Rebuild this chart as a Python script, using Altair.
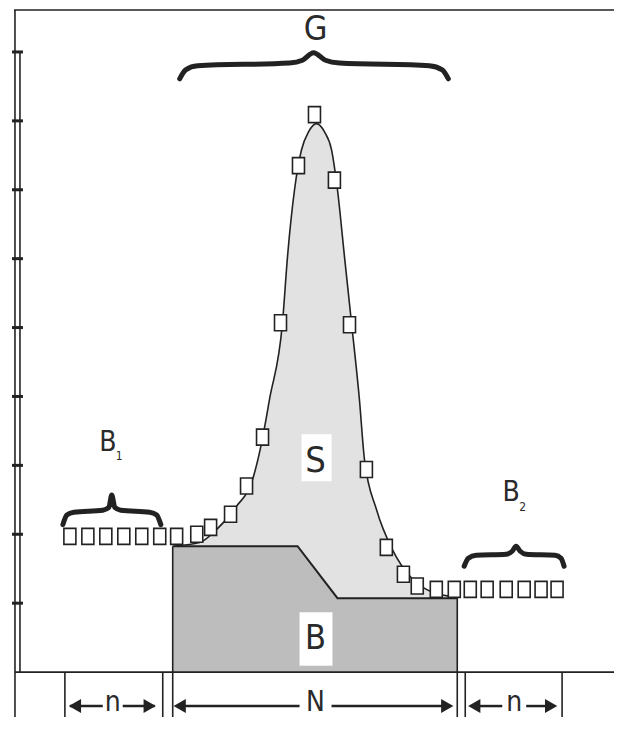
import altair as alt
import pandas as pd

# ---- coordinate frame: x = channel number, y = counts (one axis tick = 1) ----
X_DOMAIN = [-0.444, 33.278]
Y_DOMAIN = [-0.652, 9.638]

# ---- measured channel contents (open squares) ----
b1_x = [3.0, 4.0, 5.0, 6.0, 7.0, 8.0]
b1_y = [1.97, 1.97, 1.97, 1.97, 1.97, 1.97]
peak_x = [8.94, 10.06, 10.83, 11.94, 12.83, 13.72, 14.72, 15.72, 16.61, 17.72,
          18.56, 19.50, 20.61, 21.56, 22.33, 23.39, 24.39]
peak_y = [1.97, 2.00, 2.10, 2.29, 2.70, 3.41, 5.07, 7.35, 8.09, 7.14,
          5.04, 2.94, 1.81, 1.42, 1.25, 1.20, 1.20]
b2_x = [25.28, 26.22, 27.28, 28.28, 29.22, 30.11]
b2_y = [1.20, 1.20, 1.20, 1.20, 1.20, 1.20]

# ---- fitted peak curve (gross area G = S + B) ----
curve_x = [8.83, 10.22, 11.17, 12.28, 13.11, 13.67, 14.11, 14.83, 15.11, 15.50,
           15.89, 16.28, 16.72, 17.17, 17.56, 17.89, 18.28, 18.67, 19.11, 19.39,
           20.06, 20.94, 22.06, 23.17, 24.50]
curve_y = [1.83, 1.88, 2.07, 2.41, 2.75, 3.33, 3.96, 5.07, 6.03, 7.00,
           7.58, 7.84, 7.96, 7.84, 7.58, 7.00, 6.03, 5.07, 3.96, 3.09,
           2.36, 1.78, 1.35, 1.16, 1.09]

# ---- background (step) under the peak ----
bkg_x = [8.72, 15.67, 17.89, 24.56]
bkg_y = [1.826, 1.826, 1.072, 1.072]

# ---- braces ----
brace_g_x = [9.11, 9.44, 10.11, 15.22, 15.94, 16.56, 17.22, 18.00, 23.00, 23.72, 24.06]
brace_g_y = [8.61, 8.74, 8.80, 8.84, 8.88, 8.99, 8.88, 8.84, 8.80, 8.74, 8.61]
brace_b1_x = [2.61, 2.83, 3.22, 4.83, 5.17, 5.33, 5.50, 5.83, 7.44, 7.83, 8.06]
brace_b1_y = [2.14, 2.28, 2.32, 2.35, 2.39, 2.57, 2.39, 2.35, 2.32, 2.28, 2.14]
brace_b2_x = [24.94, 25.17, 25.61, 27.28, 27.61, 27.83, 28.06, 28.39, 30.00, 30.33, 30.50]
brace_b2_y = [1.536, 1.652, 1.696, 1.710, 1.754, 1.826, 1.754, 1.710, 1.696, 1.652, 1.536]

# ---- axis ticks ----
tick_values = [1, 2, 3, 4, 5, 6, 7, 8, 9]

# ---- frame / strip line segments (x, x2, y, y2) ----
seg_x = [-0.111, -0.056, 0.222, -0.056, 2.722, 8.167, 8.722, 24.556, 25.000, 30.389, 8.722]
seg_x2 = [33.278, -0.056, 0.222, 33.278, 2.722, 8.167, 8.722, 24.556, 25.000, 30.389, 8.722]
seg_y = [9.609, 9.609, 9.000, 0.000, 0.000, 0.000, 1.826, 1.072, 0.000, 0.000, 0.000]
seg_y2 = [9.609, -0.652, 0.000, 0.000, -0.652, -0.652, -0.652, -0.652, -0.652, -0.652, 0.000]

# ---- dimension arrows (shafts and heads) ----
arrow_y = -0.493
shaft_x = [3.00, 5.94, 9.11, 17.56, 25.50, 28.39]
shaft_x2 = [4.83, 7.72, 15.78, 24.11, 27.06, 29.83]
head_left_x = [3.28, 9.11, 25.50]
head_right_x = [7.44, 24.00, 29.78]

# ---- labels ----
label_text = ["G", "B", "1", "S", "B", "B", "2", "n", "N", "n"]
label_x = [16.67, 5.11, 5.74, 16.67, 16.67, 27.56, 28.19, 5.39, 16.67, 27.72]
label_y = [9.32, 3.32, 3.13, 3.07, 0.48, 2.60, 2.40, -0.45, -0.45, -0.45]
label_size = [34, 28, 12, 36, 34, 28, 12, 28, 28, 28]

# white boxes behind S and B labels
box_x = [15.89, 15.78]
box_x2 = [17.56, 17.61]
box_y = [3.45, 0.87]
box_y2 = [2.77, 0.09]

FONT = "Liberation Sans Narrow, DejaVu Sans Condensed, Liberation Sans, Arial, sans-serif"
INK = "#222222"

xs = alt.Scale(domain=X_DOMAIN, nice=False, zero=False)
ys = alt.Scale(domain=Y_DOMAIN, nice=False, zero=False)
X = lambda f: alt.X(f, type="quantitative", scale=xs, axis=None)
Y = lambda f: alt.Y(f, type="quantitative", scale=ys, axis=None)

pts = pd.DataFrame({"x": b1_x + peak_x + b2_x, "y": b1_y + peak_y + b2_y})
curve = pd.DataFrame({"x": curve_x, "y": curve_y, "base": [0.0] * len(curve_x)})
bkg = pd.DataFrame({"x": bkg_x, "y": bkg_y, "base": [0.0] * len(bkg_x)})
braces = pd.DataFrame({
    "x": brace_g_x + brace_b1_x + brace_b2_x,
    "y": brace_g_y + brace_b1_y + brace_b2_y,
    "brace": ["G"] * len(brace_g_x) + ["B1"] * len(brace_b1_x) + ["B2"] * len(brace_b2_x),
})
ticks = pd.DataFrame({"y": tick_values, "x": [-0.222] * len(tick_values), "x2": [0.389] * len(tick_values)})
segs = pd.DataFrame({"x": seg_x, "x2": seg_x2, "y": seg_y, "y2": seg_y2})
shafts = pd.DataFrame({"x": shaft_x, "x2": shaft_x2, "y": [arrow_y] * len(shaft_x)})
hl = pd.DataFrame({"x": head_left_x, "y": [arrow_y] * len(head_left_x)})
hr = pd.DataFrame({"x": head_right_x, "y": [arrow_y] * len(head_right_x)})
labels = pd.DataFrame({"x": label_x, "y": label_y, "t": label_text, "s": label_size})
boxes = pd.DataFrame({"x": box_x, "x2": box_x2, "y": box_y, "y2": box_y2})

area_s = alt.Chart(curve).mark_area(interpolate="monotone", color="#e2e2e2").encode(
    x=X("x"), y=Y("y"), y2="base")
area_b = alt.Chart(bkg).mark_area(interpolate="linear", color="#bdbdbd").encode(
    x=X("x"), y=Y("y"), y2="base")
white = alt.Chart(boxes).mark_rect(color="white").encode(
    x=X("x"), x2="x2", y=Y("y"), y2="y2")
curve_line = alt.Chart(curve).mark_line(interpolate="monotone", color=INK, strokeWidth=1.6).encode(
    x=X("x"), y=Y("y"))
bkg_line = alt.Chart(bkg).mark_line(color=INK, strokeWidth=2).encode(x=X("x"), y=Y("y"))
seg_layer = alt.Chart(segs).mark_rule(color=INK, strokeWidth=1.6).encode(
    x=X("x"), x2="x2", y=Y("y"), y2="y2")
tick_layer = alt.Chart(ticks).mark_rule(color=INK, strokeWidth=3).encode(
    x=X("x"), x2="x2", y=Y("y"))
shaft_layer = alt.Chart(shafts).mark_rule(color=INK, strokeWidth=2.5).encode(
    x=X("x"), x2="x2", y=Y("y"))
head_l = alt.Chart(hl).mark_point(shape="triangle-left", filled=True, color=INK, size=200, opacity=1).encode(
    x=X("x"), y=Y("y"))
head_r = alt.Chart(hr).mark_point(shape="triangle-right", filled=True, color=INK, size=200, opacity=1).encode(
    x=X("x"), y=Y("y"))
brace_layer = alt.Chart(braces).mark_line(interpolate="monotone", color=INK, strokeWidth=5,
                                          strokeCap="round").encode(
    x=X("x"), y=Y("y"), detail="brace:N")
squares = alt.Chart(pts).mark_point(
    shape="M -0.75 -1 L 0.75 -1 L 0.75 1 L -0.75 1 Z", size=256, filled=True,
    fill="white", stroke=INK, strokeWidth=1.6, opacity=1).encode(x=X("x"), y=Y("y"))
text_layer = alt.Chart(labels).mark_text(font=FONT, color="#2a2a2a", baseline="middle", align="center").encode(
    x=X("x"), y=Y("y"), text="t:N", size=alt.Size("s:Q", scale=None))

chart = alt.layer(
    area_s, area_b, white, curve_line, bkg_line, seg_layer, tick_layer, shaft_layer,
    brace_layer, squares, text_layer, head_l, head_r
).properties(
    width=607, height=710, padding=0,
    autosize=alt.AutoSizeParams(type="fit", contains="padding"),
    background="white",
).configure_view(stroke=None)

chart.save("out.html", embed_options={"renderer": "svg", "actions": False})
